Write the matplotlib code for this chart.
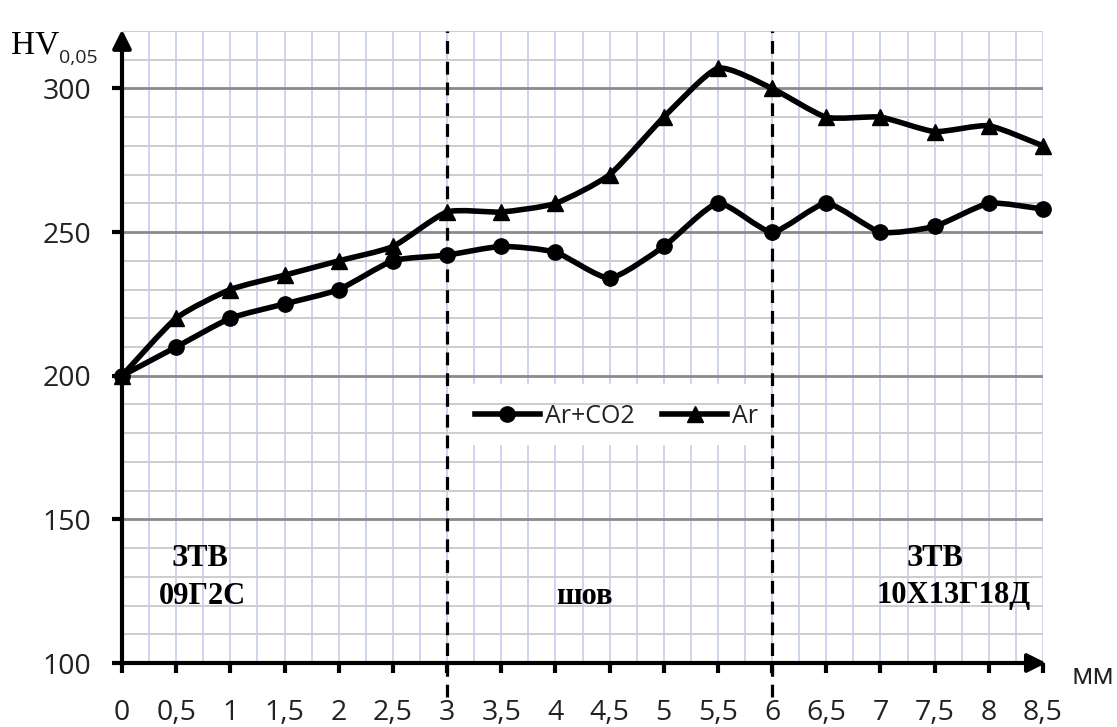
import matplotlib
matplotlib.use("Agg")
import matplotlib.pyplot as plt
import numpy as np
from matplotlib.lines import Line2D
from matplotlib.patches import PathPatch, Rectangle
from matplotlib.path import Path

# distance, mm
dist = [0, 0.5, 1, 1.5, 2, 2.5, 3, 3.5, 4, 4.5, 5, 5.5, 6, 6.5, 7, 7.5, 8, 8.5]
# microhardness HV0,05
hv_ar_co2 = [200, 210, 220, 225, 230, 240, 242, 245, 243, 234, 245, 260, 250, 260, 250, 252, 260, 258]
hv_ar = [200, 220, 230, 235, 240, 245, 257, 257, 260, 270, 290, 307, 300, 290, 290, 285, 287, 280]

x_ticks = dist
x_labels = ["0", "0,5", "1", "1,5", "2", "2,5", "3", "3,5", "4", "4,5", "5", "5,5",
            "6", "6,5", "7", "7,5", "8", "8,5"]
y_ticks = [100, 150, 200, 250, 300]
zone_borders = [3, 6]

W, H = 1117, 727
SANS = "Open Sans"
SERIF = "Liberation Serif"


def px(x, y):
    return x / W, 1 - y / H


def smooth_path(xs, ys, k=0.1):
    # lightly smoothed line: Catmull-Rom segments as cubic Beziers
    pts = np.column_stack([xs, ys]).astype(float)
    n = len(pts)
    verts = [pts[0]]
    codes = [Path.MOVETO]
    for i in range(n - 1):
        p0 = pts[i - 1] if i > 0 else pts[i]
        p1, p2 = pts[i], pts[i + 1]
        p3 = pts[i + 2] if i + 2 < n else pts[i + 1]
        verts += [p1 + (p2 - p0) * k, p2 - (p3 - p1) * k, p2]
        codes += [Path.CURVE4] * 3
    return Path(verts, codes)


fig = plt.figure(figsize=(W / 100, H / 100), dpi=100)
ax = fig.add_axes([122 / W, 1 - 663 / H, (1043 - 122) / W, (663 - 31) / H])
ax.set_xlim(0, 8.5)
ax.set_ylim(100, 320)
for s in ax.spines.values():
    s.set_visible(False)

# grid drawn by hand: vertical lines sit under the legend box, horizontal ones over it
for xv in np.arange(0.25, 8.51, 0.25):
    ax.axvline(xv, color="#c3cdf0", lw=1.2, zorder=0.5)
ax.add_patch(Rectangle((3.02, 176), 2.96, 21, facecolor="white", edgecolor="none", zorder=1.0))
for yv in range(110, 321, 10):
    if yv in y_ticks:
        ax.axhline(yv, color="#8a8a8a", lw=2.0, zorder=1.5)
    else:
        ax.axhline(yv, color="#cdcdcd", lw=1.4, zorder=1.5)

# zone borders
for xb in zone_borders:
    ax.plot([xb, xb], [88, 320], color="black", lw=2.3, ls=(0, (4, 2.5)),
            clip_on=False, zorder=2.5)

# series
for ys, mk, ms in [(hv_ar_co2, "o", 11), (hv_ar, "^", 12)]:
    ax.add_patch(PathPatch(smooth_path(dist, ys), fill=False, lw=4, color="black",
                           capstyle="round", joinstyle="round", zorder=3))
    ax.plot(dist, ys, ls="none", marker=mk, ms=ms, color="black", zorder=4, clip_on=False)

# axes with arrows
ax.annotate("", xy=(8.53, 100), xytext=(0, 100), xycoords="data",
            arrowprops=dict(arrowstyle="-|>", lw=3, color="black", mutation_scale=28,
                            shrinkA=0, shrinkB=0), annotation_clip=False, zorder=5)
ax.annotate("", xy=(0, 320.5), xytext=(0, 100), xycoords="data",
            arrowprops=dict(arrowstyle="-|>", lw=3, color="black", mutation_scale=28,
                            shrinkA=0, shrinkB=0), annotation_clip=False, zorder=5)

ax.set_xticks(x_ticks)
ax.set_xticklabels(x_labels, fontfamily=SANS, fontsize=20.5, color="#222222")
ax.set_yticks(y_ticks)
ax.set_yticklabels([str(v) for v in y_ticks], fontfamily=SANS, fontsize=20.5, color="#222222")
ax.tick_params(axis="x", direction="out", length=7, width=3, pad=19)
ax.tick_params(axis="y", direction="out", length=7, width=3, pad=15)

# legend
handles = [
    Line2D([], [], color="black", lw=4, marker="o", ms=11),
    Line2D([], [], color="black", lw=4, marker="^", ms=12),
]
leg = ax.legend(handles, ["Ar+CO2", "Ar"], loc="center", bbox_to_anchor=(0.537, 0.39),
                ncol=2, frameon=False,
                handlelength=2.6, handletextpad=0.2, columnspacing=1.1,
                borderpad=0.5, prop={"family": SANS, "size": 18})
for t in leg.get_texts():
    t.set_color("#222222")
leg.set_zorder(5)

# zone labels
bold = dict(fontfamily=SERIF, fontweight="bold", fontsize=22, ha="center", va="center")
fig.text(*px(200, 559), "ЗТВ", **bold)
fig.text(*px(202, 596), "09Г2С", **bold)
fig.text(*px(585, 596), "шов", **bold)
fig.text(*px(935, 559), "ЗТВ", **bold)
fig.text(*px(954, 596), "10Х13Г18Д", **bold)

# axis titles
fig.text(*px(11, 53), "HV", fontfamily=SERIF, fontsize=24, ha="left", va="baseline")
fig.text(*px(59, 63), "0,05", fontfamily=SANS, fontsize=14, ha="left", va="baseline",
         color="#222222")
fig.text(*px(1093, 676), "мм", fontfamily=SANS, fontsize=21, ha="center", va="center",
         color="#222222")

fig.savefig("out.png", dpi=100)
